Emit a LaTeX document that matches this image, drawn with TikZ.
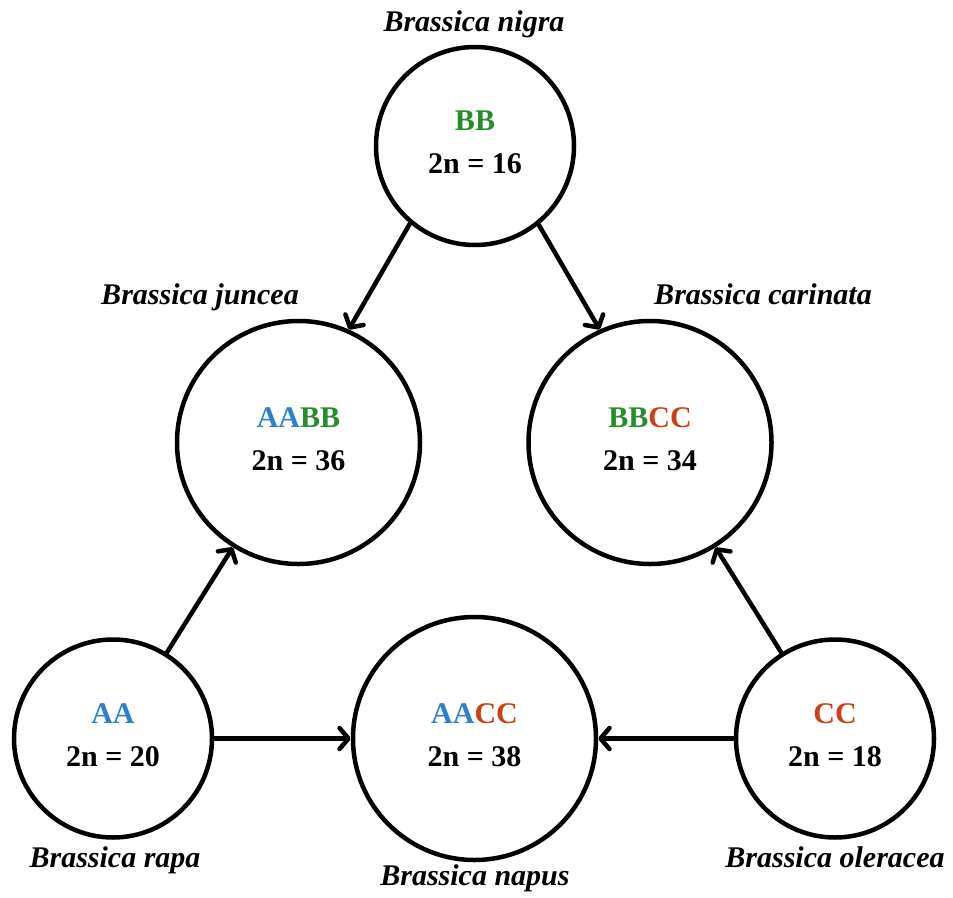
\documentclass[tikz,border=0pt]{standalone}
\usepackage{fontspec}
\setmainfont{Liberation Serif}
\usetikzlibrary{arrows.meta}

\definecolor{gA}{RGB}{46,126,210}
\definecolor{gB}{RGB}{38,140,44}
\definecolor{gC}{RGB}{204,64,20}

\begin{document}
\begin{tikzpicture}[x=1pt, y=-1pt,
  genome/.style={circle, draw=black, line width=4.5pt, fill=white,
    align=center, inner sep=0pt, text depth=7pt,
    font=\fontsize{30}{43}\selectfont\bfseries},
  small/.style={genome, minimum size=198pt},
  large/.style={genome, minimum size=243pt},
  species/.style={anchor=base, inner sep=0pt,
    font=\fontsize{30}{36}\selectfont\bfseries\itshape},
  arr/.style={line width=4.5pt, line cap=round,
    -{Straight Barb[length=9pt, width=21pt, round]}}]

\useasboundingbox (0,0) rectangle (953,897);

% diploid parents and amphidiploid hybrids
\node[small] (BB)   at (475,146)   {\textcolor{gB}{BB}\\2n = 16};
\node[large] (AABB) at (298.5,442.5) {\textcolor{gA}{AA}\textcolor{gB}{BB}\\2n = 36};
\node[large] (BBCC) at (650,442.5) {\textcolor{gB}{BB}\textcolor{gC}{CC}\\2n = 34};
\node[small] (AA)   at (113,738.5) {\textcolor{gA}{AA}\\2n = 20};
\node[large] (AACC) at (474.5,738.5) {\textcolor{gA}{AA}\textcolor{gC}{CC}\\2n = 38};
\node[small] (CC)   at (835,738.5) {\textcolor{gC}{CC}\\2n = 18};

% species names
\node[species] (nnigra)    at (474,31)  {Brassica nigra};
\node[species] (njuncea)   at (200,304) {Brassica juncea};
\node[species] (ncarinata) at (763,304) {Brassica carinata};
\node[species] (nrapa)     at (115,867) {Brassica rapa};
\node[species] (nnapus)    at (475,885) {Brassica napus};
\node[species] (noleracea) at (835,867) {Brassica oleracea};

% hybridisation arrows
\draw[arr] (BB.230.5) -- (AABB.66);
\draw[arr] (BB.309.5) -- (BBCC.114);
\draw[arr] (AA) -- (AABB);
\draw[arr] (AA) -- (AACC);
\draw[arr] (CC) -- (AACC);
\draw[arr] (CC) -- (BBCC);
\end{tikzpicture}
\end{document}
